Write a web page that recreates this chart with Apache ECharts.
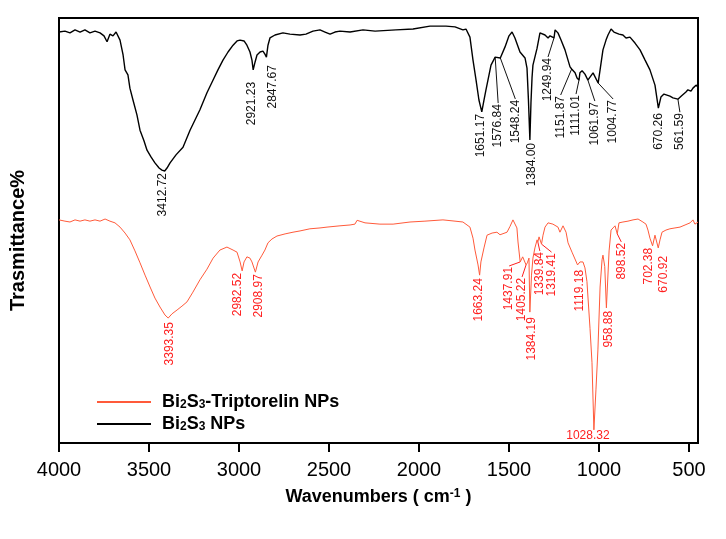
<!DOCTYPE html>
<html><head><meta charset="utf-8">
<script src="https://cdn.jsdelivr.net/npm/echarts@6/dist/echarts.min.js"></script>
<style>html,body{margin:0;padding:0;background:#fff}#c{width:726px;height:539px}</style>
</head><body><div id="c"></div>
<script>
// ---- data ----
const xTicks = [500, 1000, 1500, 2000, 2500, 3000, 3500, 4000];

const blackName = 'Bi2S3 NPs';
const redName = 'Bi2S3-Triptorelin NPs';

const blackWn = [4000,3967,3939,3911,3883,3856,3828,3800,3772,3750,3733,3717,3700,3683,3672,3661,3644,3633,3617,3606,3589,3567,3550,3528,3511,3489,3467,3444,3428,3412.72,3400,3383,3350,3311,3272,3217,3178,3144,3117,3089,3061,3033,3011,2994,2972,2956,2939,2928,2921.23,2911,2900,2883,2867,2856,2847.67,2839,2828,2800,2756,2717,2661,2628,2589,2550,2522,2494,2467,2439,2383,2311,2244,2128,2033,1939,1850,1800,1756,1739,1717,1700,1683,1667,1651.17,1639,1628,1611,1600,1576.84,1567,1548.24,1522,1500,1483,1467,1439,1411,1400,1392,1384,1378,1372,1367,1344,1328,1300,1283,1272,1249.94,1244,1228,1211,1189,1161,1151.87,1144,1133,1122,1111.01,1106,1094,1078,1061.97,1050,1033,1022,1004.77,994,978,961,950,933,917,906,889,867,850,828,800,772,744,717,689,670.26,656,639,628,606,589,561.59,544,533,517,506,489,478,461,450];
const blackT = [96.7,96.9,96.5,97.2,96.7,97.2,96.5,96.9,96.5,95.8,94.4,96.2,95.8,96.7,96.5,94.8,91.3,87.8,86.6,83.5,80.7,77.2,73.6,71.1,68.9,67.3,65.9,64.7,64.2,64.0,64.7,65.9,67.8,69.6,73.6,78.4,82.4,85.4,87.8,90.1,92.0,93.6,94.6,94.8,94.6,93.6,92.0,90.1,87.8,89.6,91.3,92.0,92.2,91.5,90.8,93.6,95.3,96.0,96.5,96.2,96.0,96.2,96.9,97.2,96.7,96.2,96.7,96.9,96.7,97.2,96.9,97.2,97.4,98.1,98.1,97.9,97.2,97.4,95.5,90.1,85.4,80.7,77.9,80.7,83.1,86.6,88.9,90.8,91.1,90.6,93.2,95.8,96.7,95.3,92.0,90.6,88.2,80.7,71.3,80.0,86.0,88.9,92.9,96.5,96.0,95.3,95.8,95.3,97.2,96.5,94.8,92.5,88.5,88.0,88.2,87.1,85.9,85.4,87.1,87.6,86.8,85.4,86.1,87.1,86.8,84.7,87.8,92.5,94.8,96.0,97.4,96.7,96.5,96.2,96.0,95.3,95.5,94.1,92.5,90.1,87.8,84.2,78.8,81.4,82.1,81.9,81.6,81.2,80.9,81.6,81.9,82.6,83.1,82.8,83.5,84.2,83.8];

const redWn = [4000,3967,3939,3911,3883,3856,3828,3800,3772,3744,3717,3689,3661,3633,3606,3578,3550,3522,3494,3467,3439,3411,3393.35,3372,3344,3317,3289,3256,3217,3178,3144,3106,3067,3033,3011,2994,2982.52,2972,2956,2939,2928,2908.97,2894,2872,2856,2839,2817,2789,2744,2700,2661,2606,2550,2511,2439,2383,2356,2344,2333,2300,2217,2144,2050,1967,1867,1800,1756,1717,1700,1689,1672,1663.24,1656,1639,1622,1594,1567,1550,1511,1494,1478,1456,1450,1437.91,1424,1405.22,1398,1389,1384.19,1375,1367,1356,1344,1339.84,1333,1328,1319.41,1311,1300,1283,1256,1228,1217,1200,1183,1172,1150,1119.18,1106,1089,1078,1067,1050,1039,1028.32,1017,1006,994,983,978,968,958.88,944,933,922,911,898.52,889,867,839,811,783,756,739,728,717,702.38,689,683,670.92,661,650,628,606,578,550,522,494,478,467,450];
const redT = [52.5,52.2,52.0,52.5,52.2,52.5,52.2,52.5,52.2,52.7,52.2,51.8,50.8,49.4,47.8,45.2,42.4,39.5,36.7,34.1,32.0,30.1,29.4,30.4,31.3,32.2,33.2,35.5,38.4,40.9,43.5,45.4,46.1,45.4,44.9,42.6,40.5,42.6,43.8,43.5,42.6,40.2,42.6,44.2,45.4,47.1,48.0,48.7,49.2,49.6,49.9,50.4,50.6,50.8,51.1,51.3,51.5,52.4,52.0,51.8,51.5,51.5,52.0,52.2,52.5,52.2,52.0,50.8,48.2,45.4,41.9,39.5,42.6,45.9,48.9,49.4,49.6,49.0,49.6,51.0,52.5,50.6,47.3,42.6,43.8,41.9,42.4,43.5,30.8,39.5,43.5,45.9,47.8,47.3,48.5,48.9,46.8,48.9,50.8,51.8,51.5,50.8,49.6,51.1,49.6,47.1,44.9,41.9,42.6,42.6,41.2,38.0,27.0,19.0,3.1,12.5,21.9,36.7,43.1,44.2,41.5,31.8,45.2,50.1,50.6,51.1,49.2,51.8,52.0,52.2,52.5,52.7,52.0,51.5,50.1,48.2,46.4,48.9,48.7,45.9,47.8,49.6,50.1,50.4,50.6,50.8,51.3,51.8,52.5,51.5,52.0];

const blackPeaks = [3412.72, 2921.23, 2847.67, 1651.17, 1576.84, 1548.24, 1384.00, 1249.94, 1151.87, 1111.01, 1061.97, 1004.77, 670.26, 561.59];
const redPeaks = [3393.35, 2982.52, 2908.97, 1663.24, 1437.91, 1405.22, 1384.19, 1339.84, 1319.41, 1119.18, 1028.32, 958.88, 898.52, 702.38, 670.92];

// ---- label layout (pixel offsets from the dip: dx, dy, leader, horizontal) ----
const blackLabelLayout = [[-2,2,0],[-1,12,0],[6,8,0],[-1,2,0],[3,47,1],[15,42,1],[2,3,0],[-6,20,1],[-11,27,1],[-3,15,1],[7,22,1],[15,17,1],[0,5,0],[2,14,1]];
const redLabelLayout = [[1,4,0],[-4,2,0],[3,2,0],[-1,3,0],[-11,5,1],[-4,13,1],[2,5,0],[2,10,1],[10,9,1],[2,5,0],[-6,6,0,1],[2,3,0],[4,9,1],[-4,2,0],[5,8,0]];

const BLACK = '#000000';
const RED_LINE = '#ff5a3a';
const RED_TEXT = '#ff2020';
const FONT = 'Arial, "Liberation Sans", sans-serif';

const zip = (a, b) => a.map((v, i) => [v, b[i]]);
const richName = n => n.replace('Bi2S3', 'Bi{sub|2}S{sub|3}');

const chart = echarts.init(document.getElementById('c'), null, {renderer: 'canvas'});
chart.setOption({
  animation: false,
  backgroundColor: '#fff',
  grid: {left: 59, right: 28, top: 18, bottom: 96, show: true, borderColor: '#000', borderWidth: 2, containLabel: false, outerBoundsMode: 'none'},
  legend: {
    orient: 'vertical', left: 92, top: 388, itemWidth: 54, itemHeight: 2, itemGap: 4,
    data: [
      {name: redName, icon: 'rect', itemStyle: {color: RED_LINE}},
      {name: blackName, icon: 'rect', itemStyle: {color: BLACK}}
    ],
    formatter: richName,
    textStyle: {fontSize: 18, fontWeight: 'bold', fontFamily: FONT, color: '#000', padding: [0, 0, 0, 6],
      rich: {sub: {fontSize: 12, fontWeight: 'bold', fontFamily: FONT, color: '#000', verticalAlign: 'bottom', lineHeight: 14}}}
  },
  xAxis: {
    type: 'value', min: 450, max: 4000, inverse: true,
    axisLine: {show: true, lineStyle: {color: '#000', width: 2}},
    axisTick: {show: true, customValues: xTicks, length: 9, inside: false, lineStyle: {color: '#000', width: 2}},
    axisLabel: {customValues: xTicks, fontSize: 20, color: '#000', fontFamily: FONT, margin: 17, formatter: v => String(v)},
    splitLine: {show: false},
    name: 'Wavenumbers ( cm{sup|-1} )', nameLocation: 'middle', nameGap: 45,
    nameTextStyle: {fontSize: 18, fontWeight: 'bold', fontFamily: FONT, color: '#000',
      rich: {sup: {fontSize: 12, fontWeight: 'bold', fontFamily: FONT, color: '#000', verticalAlign: 'top', lineHeight: 12}}}
  },
  yAxis: {
    type: 'value', min: 0, max: 100,
    axisLine: {show: false}, axisTick: {show: false}, axisLabel: {show: false}, splitLine: {show: false},
    name: 'Trasmittance%', nameLocation: 'middle', nameGap: 31, nameRotate: 90,
    nameTextStyle: {fontSize: 20, fontWeight: 'bold', fontFamily: FONT, color: '#000', padding: [0, 20, 0, 0]}
  },
  series: [
    {name: redName, type: 'line', symbol: 'none', data: zip(redWn, redT), lineStyle: {color: RED_LINE, width: 1}, itemStyle: {color: RED_LINE}, z: 2},
    {name: blackName, type: 'line', symbol: 'none', data: zip(blackWn, blackT), lineStyle: {color: BLACK, width: 1.4}, itemStyle: {color: BLACK}, z: 3}
  ]
});

function buildLabels(peaks, wn, T, layout, color) {
  const els = [];
  peaks.forEach((p, i) => {
    const idx = wn.indexOf(p);
    const pt = chart.convertToPixel({gridIndex: 0}, [p, T[idx]]);
    const [dx, dy, leader, horiz] = layout[i];
    const lx = pt[0] + dx, ly = pt[1] + dy;
    if (leader) {
      els.push({type: 'line', silent: true, shape: {x1: pt[0], y1: pt[1], x2: lx, y2: ly - 1}, style: {stroke: color, lineWidth: 1}});
    }
    els.push({type: 'text', silent: true, x: lx, y: ly, rotation: horiz ? 0 : Math.PI / 2,
      style: {text: p.toFixed(2), fill: color, font: '12px ' + FONT, align: horiz ? 'center' : 'right', verticalAlign: 'middle'}});
  });
  return els;
}

chart.setOption({graphic: {elements: [
  ...buildLabels(blackPeaks, blackWn, blackT, blackLabelLayout, '#111'),
  ...buildLabels(redPeaks, redWn, redT, redLabelLayout, RED_TEXT)
]}});
</script>
</body></html>
